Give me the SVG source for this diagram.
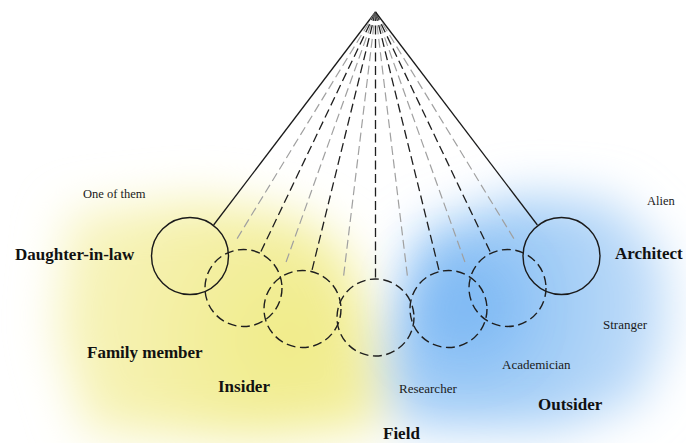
<svg xmlns="http://www.w3.org/2000/svg" width="686" height="443" viewBox="0 0 686 443">
<defs>
<style>
.bg{stroke:none}
.solid{fill:none;stroke:#1a1a1a;stroke-width:1.3}
.dash{fill:none;stroke:#1f1f1f;stroke-width:1.3;stroke-dasharray:9 4.5}
.gray{fill:none;stroke:#a0a0a0;stroke-width:1.2;stroke-dasharray:9 4.5}
.circ{fill:none;stroke:#1a1a1a;stroke-width:1.4}
.dcirc{fill:none;stroke:#1f1f1f;stroke-width:1.4;stroke-dasharray:9 4.5}
.big{font-family:"Liberation Serif","Times New Roman",serif;font-weight:bold;font-size:17px;fill:#111}
.small{font-family:"Liberation Serif","Times New Roman",serif;font-size:13px;fill:#1a1a1a}
</style>
<filter id="blur" x="-50%" y="-50%" width="200%" height="200%"><feGaussianBlur stdDeviation="24"/></filter>
<filter id="blur2" x="-80%" y="-80%" width="260%" height="260%"><feGaussianBlur stdDeviation="28"/></filter>
<radialGradient id="yg" cx="290" cy="340" r="260" gradientUnits="userSpaceOnUse">
<stop offset="0" stop-color="#f0eb86"/><stop offset="1" stop-color="#f8f5c6"/>
</radialGradient>
<radialGradient id="bgr" cx="470" cy="305" r="230" gradientUnits="userSpaceOnUse">
<stop offset="0" stop-color="#80bbf4"/><stop offset="1" stop-color="#d2e6fa"/>
</radialGradient>
</defs>
<rect width="686" height="443" fill="#ffffff"/>
<g id="background" filter="url(#blur)">
<path class="bg" fill="url(#yg)" d="M68,214 L200,200 L300,216 L345,250 L372,320 L384,428 L250,440 L86,432 L56,330 Z"/>
<path class="bg" fill="url(#bgr)" d="M420,232 L520,195 L612,200 L664,250 L670,330 L642,402 L560,430 L398,428 L385,360 L402,300 Z"/>
</g>
<g id="blueCore" filter="url(#blur2)">
<ellipse class="bg" cx="462" cy="308" rx="45" ry="40" fill="#7ab7f3" opacity="0.7"/>
</g>
<g id="connectors">
<line class="solid" x1="375.5" y1="12" x2="213.6" y2="225"/>
<line class="gray" x1="375.5" y1="12" x2="236.1" y2="240.3"/>
<line class="dash" x1="375.5" y1="12" x2="260.1" y2="253.3"/>
<line class="gray" x1="375.5" y1="12" x2="285.4" y2="263.9"/>
<line class="dash" x1="375.5" y1="12" x2="311.6" y2="271.8"/>
<line class="gray" x1="375.5" y1="12" x2="343.4" y2="277.6"/>
<line class="dash" x1="375.5" y1="12" x2="375.5" y2="279.5"/>
<line class="gray" x1="375.5" y1="12" x2="407.6" y2="277.6"/>
<line class="dash" x1="375.5" y1="12" x2="439.4" y2="271.8"/>
<line class="gray" x1="375.5" y1="12" x2="465.6" y2="263.9"/>
<line class="dash" x1="375.5" y1="12" x2="490.9" y2="253.3"/>
<line class="gray" x1="375.5" y1="12" x2="514.9" y2="240.3"/>
<line class="solid" x1="375.5" y1="12" x2="537.4" y2="225"/>
</g>
<g id="circle1"><circle class="circ" cx="190" cy="256" r="38.5"/></g>
<g id="circle2"><circle class="dcirc" cx="243.5" cy="288" r="38.5"/></g>
<g id="circle3"><circle class="dcirc" cx="302.5" cy="309" r="38.5"/></g>
<g id="circle4"><circle class="dcirc" cx="375.5" cy="317.5" r="38.5"/></g>
<g id="circle5"><circle class="dcirc" cx="448.5" cy="309" r="38.5"/></g>
<g id="circle6"><circle class="dcirc" cx="507.5" cy="288" r="38.5"/></g>
<g id="circle7"><circle class="circ" cx="561.5" cy="256" r="38.5"/></g>
<g id="labels">
<text id="t-oneofthem" class="small" x="83" y="198" style="font-size:12.5px">One of them</text>
<text id="t-daughter" class="big" x="15" y="260">Daughter-in-law</text>
<text id="t-family" class="big" x="87" y="358">Family member</text>
<text id="t-insider" class="big" x="218" y="392">Insider</text>
<text id="t-field" class="big" x="383" y="439">Field</text>
<text id="t-researcher" class="small" x="399" y="393">Researcher</text>
<text id="t-academician" class="small" x="502" y="369">Academician</text>
<text id="t-outsider" class="big" x="538" y="410">Outsider</text>
<text id="t-stranger" class="small" x="603" y="329">Stranger</text>
<text id="t-alien" class="small" x="647" y="205" style="font-size:12.5px">Alien</text>
<text id="t-architect" class="big" x="615" y="259">Architect</text>
</g>
</svg>
